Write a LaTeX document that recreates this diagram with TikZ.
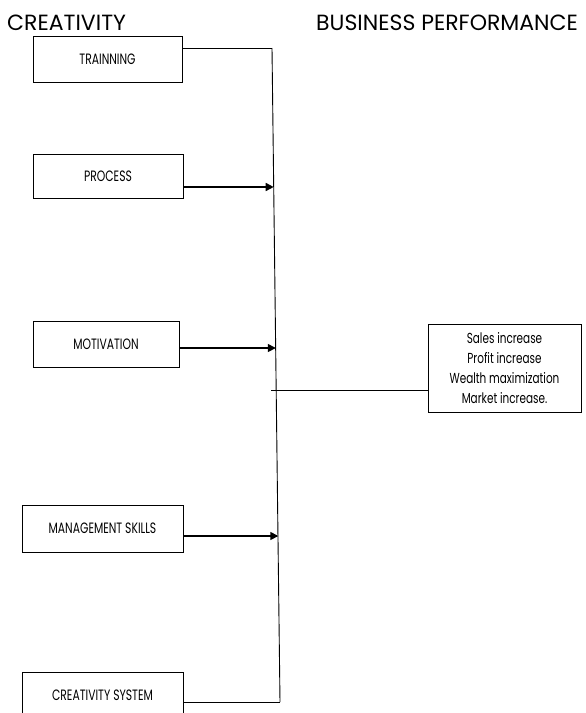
\documentclass[tikz,border=0pt]{standalone}
\usepackage{fontspec}
\setmainfont{Poppins}
\newfontfamily\boxfont[FakeStretch=0.72]{Poppins}
\usetikzlibrary{arrows.meta}
\begin{document}
\begin{tikzpicture}[x=1pt,y=-1pt,
  box/.style={draw, line width=0.9pt, inner sep=0pt, font=\boxfont\fontsize{15}{20}\selectfont},
  head/.style={anchor=base west, inner sep=0pt, font=\fontsize{22}{24}\selectfont},
  wire/.style={line width=0.9pt},
  feed/.style={line width=1.5pt, -{Triangle[length=8pt,width=8pt]}}]
\clip (0,0) rectangle (586,713);
\node[head] (hcre) at (7,30){CREATIVITY};
\node[head] (hbus) at (316,30){BUSINESS PERFORMANCE};
\node[box, minimum width=149pt, minimum height=46pt] (trn) at (107.5,59){TRAINNING};
\node[box, minimum width=150pt, minimum height=44pt] (proc) at (108,176){PROCESS};
\node[box, minimum width=146pt, minimum height=46pt] (mot) at (106,344){MOTIVATION};
\node[box, minimum width=161pt, minimum height=47pt] (mgt) at (102.5,528.5){MANAGEMENT SKILLS};
\node[box, minimum width=161pt, minimum height=46pt] (csys) at (102.5,695){CREATIVITY SYSTEM};
\node[box, minimum width=153pt, minimum height=88pt, align=center,
  font=\boxfont\fontsize{14.5}{20}\selectfont] (perf) at (504.5,368)
  {Sales increase\\Profit increase\\Wealth maximization\\Market increase.};
% spine
\coordinate (spTop) at (272,48);
\coordinate (spBot) at (280,702);
\coordinate (pin) at (273.7,187);
\coordinate (min) at (275.8,348);
\coordinate (gin) at (278.3,536);
\coordinate (outL) at (271,390);
\draw[wire] (spTop) -- (spBot);
\draw[wire] (trn.east |- spTop) -- (spTop);
\draw[wire] (csys.east |- spBot) -- (spBot);
\draw[feed] (proc.east |- pin) -- (pin);
\draw[feed] (mot.east |- min) -- (min);
\draw[feed] (mgt.east |- gin) -- (gin);
\draw[wire] (outL) -- (perf.west |- outL);
\end{tikzpicture}
\end{document}
